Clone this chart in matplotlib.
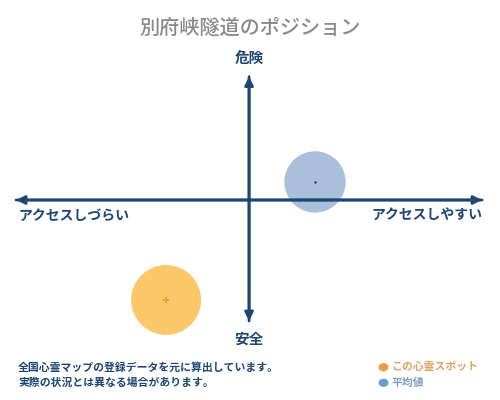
import matplotlib.pyplot as plt

plt.rcParams['font.family'] = ['Noto Sans CJK JP', 'DejaVu Sans']

title = "別府峡隧道のポジション"
labels_y = ["安全", "危険"]
labels_x = ["アクセスしづらい", "アクセスしやすい"]
names = ["この心霊スポット", "平均値"]
access = [-0.356, 0.283]
danger = [-0.826, 0.149]
notes = ["全国心霊マップの登録データを元に算出しています。",
         "実際の状況とは異なる場合があります。"]

navy = "#1d4673"
fill_colors = ["#fcc86a", "#a9bfda"]
dot_colors = ["#f0a030", "#1d3050"]
legend_dots = ["#ef9a45", "#6e9cc8"]
legend_text = ["#dba468", "#7a9cc0"]

fig = plt.figure(figsize=(5, 4), dpi=100)
ax = fig.add_axes([0, 0, 1, 1])
ax.set_xlim(-1.069, 1.077)
ax.set_ylim(-1.653, 1.653)
ax.axis("off")

# bubbles
ax.scatter(access, danger, s=[2540, 1950], c=fill_colors, zorder=1, linewidths=0)
ax.scatter(access[0], danger[0], s=14, marker="P", c=dot_colors[0], zorder=4, linewidths=0)
ax.scatter(access[1], danger[1], s=3, c=dot_colors[1], zorder=4, linewidths=0)

# axes arrows
arrow = dict(arrowstyle="-|>,head_length=0.5,head_width=0.25", color=navy, lw=2.0,
             shrinkA=0, shrinkB=0)
ax.annotate("", xy=(1, 0), xytext=(-1, 0), arrowprops=arrow, zorder=3)
ax.annotate("", xy=(-1, 0), xytext=(1, 0), arrowprops=arrow, zorder=3)
ax.annotate("", xy=(0, 1.02), xytext=(0, -1.0), arrowprops=arrow, zorder=3)
ax.annotate("", xy=(0, -1.0), xytext=(0, 1.02), arrowprops=arrow, zorder=3)

ax.text(0, 1.1, labels_y[1], ha="center", va="bottom", fontsize=10.5,
        color=navy, fontweight="bold")
ax.text(0, -1.08, labels_y[0], ha="center", va="top", fontsize=10.5,
        color=navy, fontweight="bold")
ax.text(-0.99, -0.07, labels_x[0], ha="left", va="top", fontsize=10,
        color=navy, fontweight="bold")
ax.text(1.0, -0.07, labels_x[1], ha="right", va="top", fontsize=10,
        color=navy, fontweight="bold")

fig.text(0.5, 0.93, title, ha="center", va="center", fontsize=14.5,
         color="#8a8a8a", fontweight="medium")

fig.text(0.036, 0.082, notes[0], ha="left", va="center", fontsize=7.8,
         color=navy, fontweight="bold")
fig.text(0.036, 0.043, notes[1], ha="left", va="center", fontsize=7.8,
         color=navy, fontweight="bold")

for i, (nm, y) in enumerate(zip(names, [0.082, 0.043])):
    fig.patches.append(plt.Circle((0.767, y), 0.0085, transform=fig.transFigure,
                                  color=legend_dots[i], figure=fig))
    fig.text(0.782, y, nm, ha="left", va="center", fontsize=7.8,
             color=legend_text[i], fontweight="bold")

fig.savefig("out.png", dpi=100)
